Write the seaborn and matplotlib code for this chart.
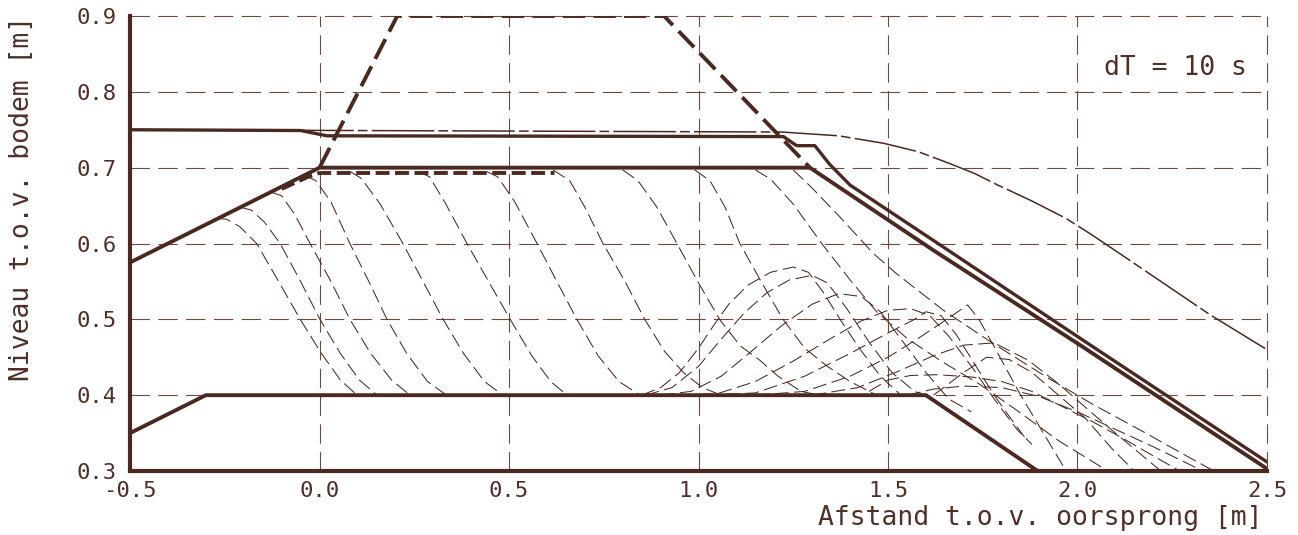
import matplotlib
matplotlib.use("Agg")
import matplotlib.pyplot as plt
import seaborn as sns
import pandas as pd

# ---------------- data ----------------
x_ticks = [-0.5, 0.0, 0.5, 1.0, 1.5, 2.0, 2.5]
x_tick_labels = ["-0.5", "0.0", "0.5", "1.0", "1.5", "2.0", "2.5"]
y_ticks = [0.3, 0.4, 0.5, 0.6, 0.7, 0.8, 0.9]
y_tick_labels = ["0.3", "0.4", "0.5", "0.6", "0.7", "0.8", "0.9"]

# bottom structure (thick solid)
bottom_x = [-0.5, -0.3, 1.6, 1.895]
bottom_y = [0.35, 0.40, 0.40, 0.30]

# bed line with slope, crest and downstream slope (thick solid)
bed_x = [-0.5, 0.0, 1.294, 1.62, 2.007, 2.5]
bed_y = [0.575, 0.70, 0.70, 0.591, 0.466, 0.303]

# upper thick line (level 0.75 -> 0.74, step, slope)
upper_x = [-0.5, -0.05, 0.02, 1.224, 1.259, 1.307, 1.345, 1.40, 1.659, 2.007, 2.5]
upper_y = [0.750, 0.749, 0.742, 0.741, 0.729, 0.729, 0.705, 0.677, 0.591, 0.475, 0.312]

# thin dash-dot line
dashdot_x = [-0.5, 1.22, 1.37, 1.49, 1.58, 1.66, 1.73, 1.79, 1.88, 1.97, 2.03, 2.09, 2.35, 2.5]
dashdot_y = [0.750, 0.747, 0.742, 0.732, 0.721, 0.706, 0.692, 0.677, 0.656, 0.633, 0.614, 0.594, 0.506, 0.460]

# initial body (thick dashed trapezoid)
body_x = [0.0, 0.205, 0.909, 1.294]
body_y = [0.70, 0.90, 0.90, 0.70]

# thick dashed crest profile
crest_x = [-0.10, -0.03, 0.0, 0.62]
crest_y = [0.672, 0.688, 0.693, 0.693]

# thin dashed profiles every dT = 10 s
profiles = {
    "F1": ([-0.27, -0.245, -0.21, -0.166, -0.108, -0.051, 0.005, 0.055, 0.099],
           [0.633, 0.632, 0.622, 0.600, 0.550, 0.500, 0.455, 0.420, 0.400]),
    "F2": ([-0.21, -0.18, -0.145, -0.104, -0.05, 0.001, 0.055, 0.105, 0.152],
           [0.648, 0.644, 0.628, 0.600, 0.550, 0.500, 0.455, 0.420, 0.400]),
    "F3": ([-0.13, -0.10, -0.065, -0.025, 0.03, 0.080, 0.135, 0.19, 0.239],
           [0.668, 0.663, 0.638, 0.600, 0.550, 0.500, 0.455, 0.420, 0.400]),
    "F4": ([-0.04, -0.01, 0.03, 0.080, 0.13, 0.178, 0.23, 0.285, 0.335],
           [0.690, 0.683, 0.655, 0.600, 0.550, 0.500, 0.455, 0.418, 0.400]),
    "F5": ([0.08, 0.11, 0.16, 0.220, 0.273, 0.326, 0.38, 0.435, 0.484],
           [0.695, 0.686, 0.652, 0.600, 0.550, 0.500, 0.455, 0.418, 0.400]),
    "F6": ([0.26, 0.29, 0.33, 0.389, 0.446, 0.503, 0.56, 0.61, 0.653],
           [0.695, 0.688, 0.655, 0.600, 0.550, 0.500, 0.452, 0.418, 0.400]),
    "F7": ([0.44, 0.47, 0.515, 0.574, 0.626, 0.679, 0.735, 0.79, 0.846],
           [0.695, 0.688, 0.655, 0.600, 0.550, 0.500, 0.452, 0.418, 0.400]),
    "F8": ([0.616, 0.66, 0.70, 0.748, 0.806, 0.858, 0.91, 0.96, 1.01, 1.06],
           [0.697, 0.683, 0.648, 0.600, 0.550, 0.500, 0.458, 0.430, 0.410, 0.400]),
    "F9": ([0.80, 0.84, 0.89, 0.943, 1.00, 1.057, 1.11, 1.162, 1.21, 1.27, 1.32],
           [0.697, 0.683, 0.648, 0.600, 0.548, 0.499, 0.465, 0.446, 0.425, 0.405, 0.400]),
    "F10": ([0.99, 1.03, 1.07, 1.109, 1.165, 1.223, 1.28, 1.34, 1.40, 1.47],
            [0.697, 0.683, 0.648, 0.600, 0.550, 0.500, 0.462, 0.438, 0.418, 0.400]),
    "F11": ([1.15, 1.19, 1.25, 1.325, 1.40, 1.47, 1.55, 1.64, 1.74, 1.84, 1.95, 2.08],
            [0.697, 0.685, 0.652, 0.600, 0.552, 0.510, 0.475, 0.445, 0.415, 0.380, 0.340, 0.300]),
    "F12": ([1.25, 1.30, 1.373, 1.461, 1.523, 1.646, 1.778, 1.918, 2.04, 2.18, 2.28, 2.36],
            [0.697, 0.673, 0.635, 0.587, 0.560, 0.512, 0.468, 0.424, 0.388, 0.350, 0.322, 0.300]),
    "H1": ([0.85, 0.90, 0.95, 1.00, 1.04, 1.08, 1.13, 1.19, 1.25, 1.29, 1.33, 1.38, 1.43, 1.48, 1.53],
           [0.400, 0.410, 0.430, 0.462, 0.492, 0.520, 0.545, 0.562, 0.569, 0.562, 0.535, 0.495, 0.458, 0.425, 0.402]),
    "H2": ([0.86, 0.93, 1.00, 1.06, 1.12, 1.18, 1.24, 1.30, 1.34, 1.39, 1.45, 1.51, 1.57, 1.60],
           [0.400, 0.410, 0.438, 0.474, 0.508, 0.535, 0.552, 0.558, 0.548, 0.515, 0.470, 0.430, 0.405, 0.400]),
    "H3": ([0.90, 0.98, 1.06, 1.14, 1.22, 1.30, 1.37, 1.43, 1.48, 1.54, 1.60, 1.66, 1.72],
           [0.400, 0.405, 0.425, 0.458, 0.492, 0.520, 0.534, 0.530, 0.510, 0.470, 0.430, 0.395, 0.378]),
    "H4": ([0.95, 1.05, 1.15, 1.25, 1.35, 1.43, 1.50, 1.56, 1.61, 1.66, 1.72, 1.78, 1.84, 1.88],
           [0.400, 0.402, 0.418, 0.445, 0.475, 0.498, 0.512, 0.514, 0.505, 0.478, 0.438, 0.395, 0.355, 0.335]),
    "H5": ([1.02, 1.15, 1.28, 1.40, 1.50, 1.57, 1.60, 1.64, 1.68, 1.73, 1.78, 1.83, 1.86],
           [0.400, 0.403, 0.425, 0.455, 0.482, 0.500, 0.510, 0.505, 0.480, 0.440, 0.400, 0.365, 0.345]),
    "H6": ([1.15, 1.28, 1.40, 1.50, 1.58, 1.64, 1.69, 1.71, 1.74, 1.79, 1.85, 1.91, 1.97],
           [0.400, 0.405, 0.425, 0.450, 0.475, 0.495, 0.512, 0.519, 0.500, 0.455, 0.400, 0.350, 0.300]),
    "H7": ([1.30, 1.42, 1.52, 1.62, 1.70, 1.78, 1.87, 1.95, 2.03, 2.10, 2.16, 2.22],
           [0.400, 0.410, 0.430, 0.452, 0.466, 0.469, 0.446, 0.415, 0.380, 0.350, 0.325, 0.300]),
    "H8": ([1.45, 1.50, 1.56, 1.63, 1.72, 1.80, 1.88, 1.96, 2.04, 2.12, 2.20, 2.27],
           [0.405, 0.420, 0.426, 0.427, 0.424, 0.418, 0.405, 0.385, 0.365, 0.343, 0.320, 0.300]),
    "H9": ([1.55, 1.62, 1.70, 1.80, 1.90, 2.00, 2.10, 2.20, 2.29, 2.33],
           [0.400, 0.408, 0.412, 0.410, 0.398, 0.378, 0.355, 0.332, 0.310, 0.300]),
    "H10": ([1.62, 1.70, 1.76, 1.82, 1.88, 1.95, 2.02, 2.09, 2.15],
            [0.400, 0.430, 0.450, 0.447, 0.430, 0.400, 0.370, 0.330, 0.300]),
}

label_text = "dT = 10 s"
xlabel = "Afstand t.o.v. oorsprong [m]"
ylabel = "Niveau t.o.v. bodem [m]"

# ---------------- style ----------------
sns.set_theme(style="white")
plt.rcParams["font.family"] = ["DejaVu Sans Mono", "DejaVu Sans"]
plt.rcParams["axes.unicode_minus"] = False
plt.rcParams["lines.scale_dashes"] = False

ink = "#4a2921"
grid_c = "#6a4a42"
text_c = "#4f3029"

fig = plt.figure(figsize=(12.98, 5.35), dpi=100)
ax = fig.add_axes([0.1002, 0.1196, 0.8759, 0.8505])

rows = []
for name, (xs, ys) in profiles.items():
    for xv, yv in zip(xs, ys):
        rows.append({"x": xv, "y": yv, "profile": name})
df = pd.DataFrame(rows)

sns.lineplot(data=df, x="x", y="y", units="profile", estimator=None, sort=False,
             color=ink, lw=0.75, linestyle=(0, (10, 4)), legend=False, ax=ax, zorder=2)

def thick(xs, ys, lw=2.8, ls="-", z=4):
    sns.lineplot(x=xs, y=ys, sort=False, estimator=None, color=ink, lw=lw,
                 linestyle=ls, ax=ax, zorder=z, legend=False)

thick(bottom_x, bottom_y)
thick(bed_x, bed_y)
thick(upper_x, upper_y, lw=2.4)
thick(body_x, body_y, lw=2.8, ls=(0, (16, 6)))
thick(crest_x, crest_y, lw=2.8, ls=(0, (10, 4)))
sns.lineplot(x=dashdot_x, y=dashdot_y, sort=False, estimator=None, color=ink, lw=1.1,
             linestyle=(0, (45, 3, 7, 3)), ax=ax, zorder=3, legend=False)

ax.set_xlim(x_ticks[0], x_ticks[-1])
ax.set_ylim(y_ticks[0], y_ticks[-1])
ax.set_xticks(x_ticks)
ax.set_xticklabels(x_tick_labels)
ax.set_yticks(y_ticks)
ax.set_yticklabels(y_tick_labels)
ax.tick_params(length=0, labelsize=16, labelcolor=text_c)
ax.tick_params(axis="y", pad=10)
ax.tick_params(axis="x", pad=7)

ax.grid(True, color=grid_c, lw=0.8, linestyle=(0, (14, 6)))
for gl in ax.get_xgridlines() + ax.get_ygridlines():
    gl.set_clip_on(False)

for s in ["top", "right"]:
    ax.spines[s].set_visible(False)
for s in ["left", "bottom"]:
    ax.spines[s].set_linewidth(3)
    ax.spines[s].set_color(ink)
    ax.spines[s].set_zorder(6)

ax.set_xlabel(xlabel, fontsize=19, color=text_c, ha="right", va="center")
ax.xaxis.set_label_coords(0.9965, -0.103)
ax.set_ylabel(ylabel, fontsize=19, color=text_c, ha="center", va="center")
ax.yaxis.set_label_coords(-0.095, 0.598)

ax.text(0.982, 0.886, label_text, transform=ax.transAxes, ha="right", va="center",
        fontsize=19, color=text_c)

fig.savefig("out.png", dpi=100)
